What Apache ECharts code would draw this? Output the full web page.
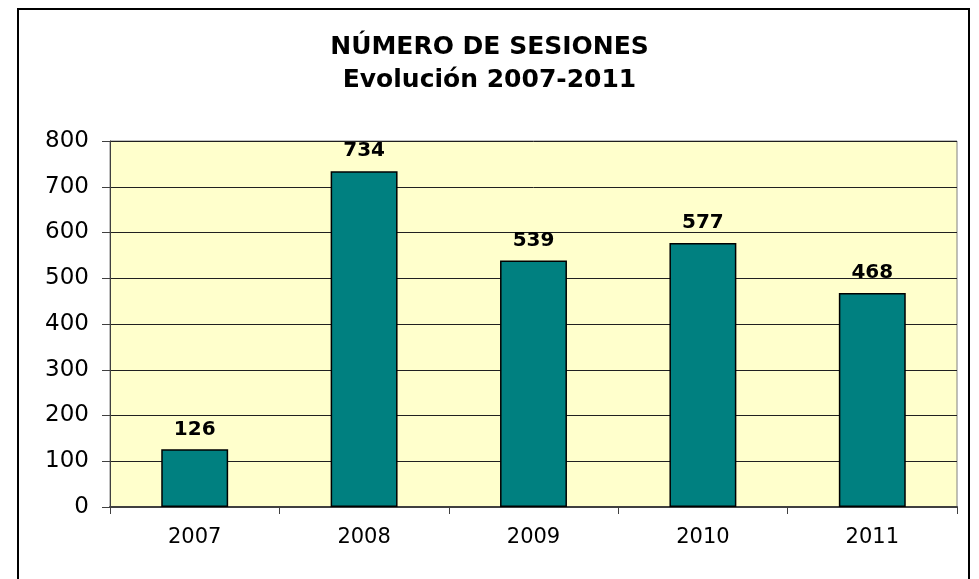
<!DOCTYPE html>
<html><head><meta charset="utf-8">
<script src="https://cdn.jsdelivr.net/npm/echarts@6/dist/echarts.min.js"></script>
<style>html,body{margin:0;padding:0;background:#fff}#c{width:979px;height:579px}</style>
</head><body><div id="c"></div>
<script>
const categories = ['2007', '2008', '2009', '2010', '2011'];
const sesiones = [126, 734, 539, 577, 468];
const titleText = 'NÚMERO DE SESIONES\nEvolución 2007-2011';

const chart = echarts.init(document.getElementById('c'), null, {renderer: 'canvas'});
const font = 'DejaVu Sans, Verdana, sans-serif';
chart.setOption({
  animation: false,
  backgroundColor: '#ffffff',
  title: {
    text: titleText, left: 'center', top: 26,
    textStyle: {fontFamily: font, fontWeight: 'bold', fontSize: 25, color: '#000', lineHeight: 33}
  },
  graphic: [{
    type: 'rect', shape: {x: 18, y: 9, width: 951, height: 580},
    style: {fill: 'none', stroke: '#000', lineWidth: 2}, z: 100
  }],
  grid: {left: 110, right: 22, top: 141, bottom: 72, show: true, backgroundColor: '#FFFFCC', borderColor: '#808080', borderWidth: 1},
  xAxis: {
    type: 'category', data: categories,
    axisLine: {lineStyle: {color: '#404040', width: 2}},
    axisTick: {show: true, alignWithLabel: false, length: 7, lineStyle: {color: '#404040'}},
    axisLabel: {fontFamily: font, fontSize: 21, color: '#000', margin: 20}
  },
  yAxis: {
    type: 'value', min: 0, max: 800, interval: 100,
    axisLine: {show: true, lineStyle: {color: '#404040', width: 1}},
    axisTick: {show: true, length: 8, lineStyle: {color: '#404040'}},
    splitLine: {lineStyle: {color: '#202020', width: 1}},
    axisLabel: {fontFamily: font, fontSize: 23, color: '#000', margin: 21}
  },
  series: [{
    type: 'bar', data: sesiones, barWidth: '39.5%',
    itemStyle: {color: '#008080', borderColor: '#000', borderWidth: 1.5},
    label: {show: true, position: 'top', distance: 10, fontFamily: font, fontWeight: 'bold', fontSize: 20, color: '#000'}
  }]
});
</script></body></html>
